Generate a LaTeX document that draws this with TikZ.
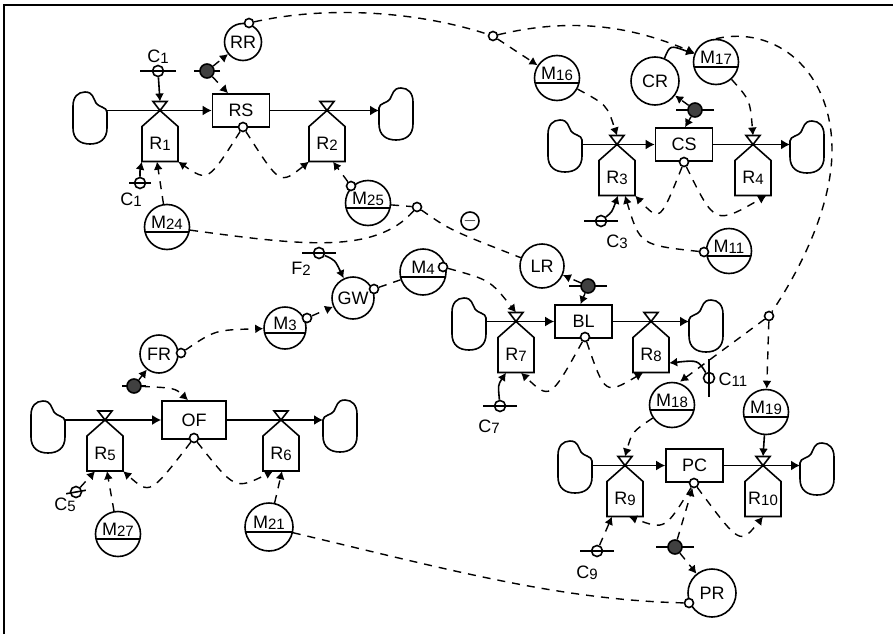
\documentclass[tikz,border=0pt]{standalone}
\usepackage{fontspec}
\setmainfont{Liberation Sans}
\usetikzlibrary{arrows.meta}

\newcommand{\idx}[1]{\raisebox{-1pt}{\fontsize{15}{15}\selectfont #1}}

\tikzset{
    stock/.style={line width=1.6pt},
    stockbox/.style={draw, stock, rectangle, fill=white, minimum width=57, minimum height=33, inner sep=0},
    aux/.style={draw, stock, circle, fill=white, minimum size=44, inner sep=0},
    meter/.style={aux, minimum size=45, text height=14pt, text depth=11pt,
        path picture={\draw[stock] ([yshift=-5pt]path picture bounding box.west) -- ([yshift=-5pt]path picture bounding box.east);}},
    dot/.style={draw, stock, circle, fill=white, minimum size=9, inner sep=0},
    tap/.style={draw, stock, circle, minimum size=11, inner sep=0},
    gate/.style={draw, stock, circle, fill=black!75, minimum size=14, inner sep=0},
    ratelabel/.style={minimum width=36, minimum height=35, inner sep=0},
    flow/.style={stock, -{Latex[length=9pt,width=10pt]}},
    solidlink/.style={stock, -{Latex[length=8pt,width=9pt]}},
    dashlink/.style={line width=1.4pt, dash pattern=on 8pt off 7pt},
    link/.style={dashlink, -{Latex[length=8pt,width=9pt]}},
    cloudbox/.pic={
        \draw[stock] (34,20) -- (34,36) .. controls (34,47) and (27,52) .. (17,52)
            .. controls (7,52) and (0,47) .. (0,36) -- (0,14)
            .. controls (0,5) and (5,0) .. (12,0) .. controls (20,0) and (20,6) .. (23,11)
            .. controls (25,15) and (34,15) .. (34,20) -- cycle;
        \coordinate (-port) at (34,20);
    },
}

\newcommand{\ratenode}[3]{
    \draw[stock] (#2) -- ++(-18,16) -- ++(0,35) -- ++(36,0) -- ++(0,-35) -- cycle;
    \draw[stock] (#2) -- ++(-7,-9) -- ++(14,0) -- cycle;
    \node[ratelabel] (#1) at ([shift={(0,33.5)}]#2) {#3};
    \coordinate (#1top) at ([shift={(0,-9)}]#2);
}
\newcommand{\barnode}[5][0]{
    \draw[stock] (#3) ++(#1:#4) -- ++(#1:-2*#4);
    \node[#5] (#2) at (#3) {};
}

\begin{document}
\begin{tikzpicture}[x=1pt, y=-1pt, every node/.append style={font=\fontsize{18}{20}\selectfont}]
    \useasboundingbox (0,0) rectangle (893,634);
    \draw[line width=2pt] (4,634) -- (4,5) -- (893,5);

    % RS
    \pic (CLa) at (73,92) {cloudbox};
    \pic[xscale=-1] (CRa) at (413,88) {cloudbox};
    \ratenode{R1}{160,110.5}{R\idx{1}}
    \ratenode{R2}{327,110.5}{R\idx{2}}
    \node[stockbox] (RS) at (241,110.5) {RS};
    \node[dot] (RSo) at (243,127) {};
    \draw[flow] (CLa-port |- RS) -- (RS);
    \draw[flow] (RS) -- (CRa-port |- RS);
    \barnode{C1a}{158,71}{18}{tap}
    \node (C1atxt) at (158,57) {C\idx{1}};
    \barnode{C1b}{140,183}{11}{tap}
    \node (C1btxt) at (131,200) {C\idx{1}};
    \node[meter] (M24) at (167,227) {M\idx{24}};
    \node[aux, minimum size=37] (RR) at (243,42) {RR};
    \node[dot] (RRo) at (249,23) {};
    \barnode{Ga}{207,71}{13}{gate}
    \node[meter] (M25) at (368,203) {M\idx{25}};
    \node[dot] (M25o) at (351,186) {};
    \node[dot] (Da) at (417,207) {};
    \draw[solidlink] (C1a) -- (R1top);
    \draw[solidlink] (C1b) .. controls (140,170) .. (R1.south west);
    \draw[link] (M24) -- ([xshift=-3pt]R1.south);
    \draw[link] (RSo) .. controls (208,182) .. (R1.south east);
    \draw[link] (RSo) .. controls (280,185) .. (R2.south west);
    \draw[link] (M25o) -- ([xshift=6pt]R2.south);
    \draw[link] (Ga) -- (RR);
    \draw[link] (Ga) -- ([xshift=-13pt]RS.north);
    \draw[dashlink] (M24) .. controls (300,245) and (375,255) .. (Da);
    \draw[dashlink] (M25) -- (Da);

    % CS
    \pic (CLb) at (548,120) {cloudbox};
    \pic[xscale=-1] (CRb) at (824,121) {cloudbox};
    \ratenode{R3}{617,144.5}{R\idx{3}}
    \ratenode{R4}{753,144.5}{R\idx{4}}
    \node[stockbox] (CS) at (684,144.5) {CS};
    \node[dot] (CSo) at (684,162) {};
    \draw[flow] (CLb-port |- CS) -- (CS);
    \draw[flow] (CS) -- (CRb-port |- CS);
    \node[aux, minimum size=48] (CR) at (655,81) {CR};
    \node[meter] (M16) at (557,78) {M\idx{16}};
    \node[meter] (M17) at (716,62) {M\idx{17}};
    \node[meter] (M11) at (729,251) {M\idx{11}};
    \node[dot] (M11o) at (704,252) {};
    \barnode{Gb}{695,110}{19}{gate}
    \barnode{C3}{601,221}{17}{tap}
    \node (C3txt) at (617,242) {C\idx{3}};
    \node[dot] (Db) at (493,36) {};
    \node[dot] (Dc) at (769,316) {};
    \draw[link] (Gb) -- (CR);
    \draw[link] (Gb) -- ([xshift=1pt]CS.north);
    \draw[link] (CSo) .. controls (660,222) .. (R3.south east);
    \draw[link] (CSo) .. controls (715,225) .. ([xshift=-5pt]R4.south east);
    \draw[solidlink] (C3) .. controls (612,212) .. ([xshift=1pt]R3.south);
    \draw[link] (M11o) .. controls (640,245) .. ([xshift=8pt]R3.south);
    \draw[link] (M16) .. controls (607,105) .. (R3top);
    \draw[link] (M17) .. controls (750,100) .. (R4top);
    \draw[solidlink] (CR) .. controls (670,45) .. (M17);
    \draw[dashlink] (RRo) .. controls (330,5) and (420,12) .. (Db);
    \draw[link] (Db) -- (M16);
    \draw[link] (Db) .. controls (580,15) and (640,30) .. (M17);
    \draw[dashlink] (M17.north) .. controls (775,25) and (832,70) .. (832,150) .. controls (832,215) and (790,285) .. (Dc);

    % BL
    \pic (CLc) at (452,298) {cloudbox};
    \pic[xscale=-1] (CRc) at (723,300) {cloudbox};
    \ratenode{R7}{516,321.5}{R\idx{7}}
    \ratenode{R8}{651,321.5}{R\idx{8}}
    \node[stockbox] (BL) at (583.5,321.5) {BL};
    \node[dot] (BLo) at (585,337) {};
    \draw[flow] (CLc-port |- BL) -- (BL);
    \draw[flow] (BL) -- (CRc-port |- BL);
    \node[aux] (LR) at (542,266) {LR};
    \barnode{Gc}{588,286}{19}{gate}
    \barnode{C7}{500,406}{17}{tap}
    \node (C7txt) at (489,427) {C\idx{7}};
    \barnode[90]{C11}{709,378}{19}{tap}
    \node (C11txt) at (733,380) {C\idx{11}};
    \node[meter] (M18) at (672,405) {M\idx{18}};
    \node[meter] (M19) at (766,412) {M\idx{19}};
    \node[aux, minimum size=18] (Minus) at (470,221) {$-$};
    \draw[dashlink] (Da) .. controls (450,230) .. (LR);
    \draw[link] (Gc) -- (LR);
    \draw[link] (Gc) -- ([xshift=-3pt]BL.north);
    \draw[link] (BLo) .. controls (550,400) .. ([xshift=5pt]R7.south);
    \draw[link] (BLo) .. controls (605,395) .. ([xshift=-8pt]R8.south);
    \draw[solidlink] (C7) .. controls (498,385) .. ([xshift=-10pt]R7.south);
    \draw[solidlink] (C11) .. controls (698,360) .. ([yshift=-8pt]R8.east);
    \draw[link] (Dc) -- ([xshift=8pt]M18.north);
    \draw[link] (Dc) -- (M19);

    % PC
    \pic (CLd) at (558,441) {cloudbox};
    \pic[xscale=-1] (CRd) at (834,443) {cloudbox};
    \ratenode{R9}{625,465.5}{R\idx{9}}
    \ratenode{R10}{763,465.5}{R\idx{10}}
    \node[stockbox] (PC) at (694.5,465.5) {PC};
    \node[dot] (PCo) at (694,483) {};
    \draw[flow] (CLd-port |- PC) -- (PC);
    \draw[flow] (PC) -- (CRd-port |- PC);
    \barnode{C9}{597,551}{17}{tap}
    \node (C9txt) at (587,573) {C\idx{9}};
    \barnode{Gd}{675,547}{19}{gate}
    \node[aux, minimum size=48] (PR) at (712,593) {PR};
    \node[dot] (PRo) at (689,603) {};
    \draw[link] (M18) .. controls (632,432) .. (R9top);
    \draw[solidlink] (M19) -- (R10top);
    \draw[link] (PCo) .. controls (665,530) .. ([xshift=4pt]R9.south);
    \draw[link] (PCo) .. controls (740,545) .. (R10.south);
    \draw[link] (C9) -- ([xshift=-13pt]R9.south);
    \draw[link] (Gd) -- (PCo);
    \draw[link] (Gd) -- (PR);

    % OF
    \pic (CLe) at (31,401) {cloudbox};
    \pic[xscale=-1] (CRe) at (357,400) {cloudbox};
    \ratenode{R5}{105,420}{R\idx{5}}
    \ratenode{R6}{281,420}{R\idx{6}}
    \node[stockbox, minimum width=64, minimum height=38] (OF) at (194,420) {OF};
    \node[dot] (OFo) at (194,438) {};
    \draw[flow] (CLe-port |- OF) -- (OF);
    \draw[flow] (OF) -- (CRe-port |- OF);
    \barnode[-10]{C5}{76,492}{10}{tap}
    \node (C5txt) at (65,505) {C\idx{5}};
    \node[meter] (M27) at (118,534) {M\idx{27}};
    \node[meter, minimum size=48] (M21) at (269,527) {M\idx{21}};
    \node[aux, minimum size=38] (FR) at (159,354) {FR};
    \node[dot] (FRo) at (181,353) {};
    \barnode{Ge}{134,386}{12}{gate}
    \node[meter, minimum size=42] (M3) at (285,328) {M\idx{3}};
    \node[dot] (M3o) at (307,318) {};
    \node[aux, minimum size=42] (GW) at (353,298) {GW};
    \node[dot] (GWo) at (374,289) {};
    \node[meter, minimum size=46] (M4) at (423,272) {M\idx{4}};
    \node[dot] (M4o) at (443,267) {};
    \barnode{F2}{319,253}{17}{tap}
    \node (F2txt) at (301,269) {F\idx{2}};
    \draw[link] (OFo) .. controls (150,495) .. (R5.south east);
    \draw[link] (OFo) .. controls (235,490) .. ([xshift=-8pt]R6.south);
    \draw[link] (C5) -- ([xshift=-10pt]R5.south);
    \draw[link] (M27) -- ([xshift=2pt]R5.south);
    \draw[link] (M21) -- ([xshift=1pt]R6.south);
    \draw[link] (Ge) -- (FR);
    \draw[link] (Ge) .. controls (175,388) .. ([xshift=-6pt]OF.north);
    \draw[link] (FRo) .. controls (215,330) .. (M3);
    \draw[link] (M3o) -- (GW);
    \draw[dashlink] (GWo) -- (M4);
    \draw[solidlink] (F2) .. controls (335,260) .. (GW);
    \draw[link] (M4o) .. controls (490,280) .. (R7top);
    \draw[dashlink] (PRo) .. controls (560,600) and (450,570) .. (M21);
\end{tikzpicture}
\end{document}
